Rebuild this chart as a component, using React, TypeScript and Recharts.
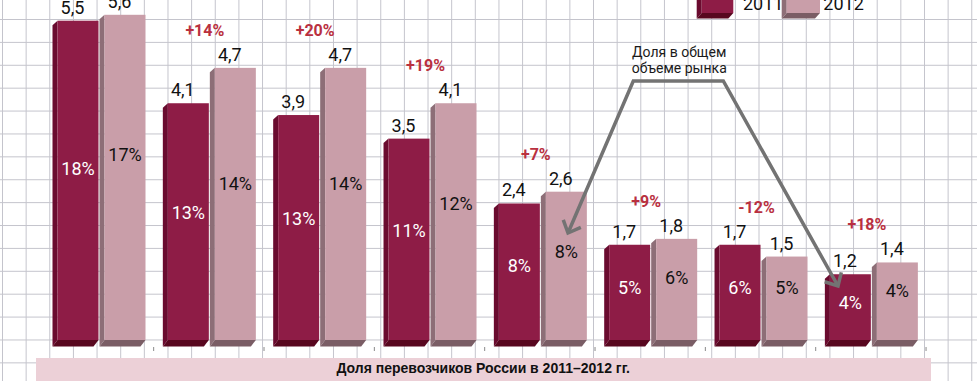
import React from "react";
import { BarChart, Bar, XAxis, YAxis, Legend, LabelList } from "recharts";

// перевозчики (подписей на оси нет)
const carriers = ["1", "2", "3", "4", "5", "6", "7", "8"];
const years = ["2011", "2012"];
// пассажиропоток, млн
const values2011 = [5.5, 4.1, 3.9, 3.5, 2.4, 1.7, 1.7, 1.2];
const values2012 = [5.6, 4.7, 4.7, 4.1, 2.6, 1.8, 1.5, 1.4];
// доля в общем объеме рынка
const share2011 = ["18%", "13%", "13%", "11%", "8%", "5%", "6%", "4%"];
const share2012 = ["17%", "14%", "14%", "12%", "8%", "6%", "5%", "4%"];
// прирост 2012 к 2011
const growth = ["", "+14%", "+20%", "+19%", "+7%", "+9%", "-12%", "+18%"];

const data = carriers.map((name, i) => ({ name, y2011: values2011[i], y2012: values2012[i] }));

const DARK = { front: "#8e1c46", side: "#6a0b2f", bottom: "#58071f" };
const LIGHT = { front: "#c99ea9", side: "#8d6e77", bottom: "#7a5d65" };
const FONT = "Roboto, 'DejaVu Sans', sans-serif";
const DEPTH = 5;
const DROP = 5;

function Bar3D(props: any) {
  const { x, y, width, height, colors } = props;
  if (height <= 0) return null;
  const fb = y + height - DROP; // низ передней грани
  const bb = y + height + 1.5;
  return (
    <g>
      <polygon points={`${x},${y + 4.5} ${x + DEPTH},${y} ${x + DEPTH},${fb} ${x},${bb}`} fill={colors.side} />
      <polygon points={`${x},${bb} ${x + DEPTH},${fb} ${x + width},${fb} ${x + width - DEPTH},${bb}`} fill={colors.bottom} />
      <rect x={x + DEPTH} y={y} width={width - DEPTH} height={fb - y} fill={colors.front} />
    </g>
  );
}

const fmt = (v: number) => v.toFixed(1).replace(".", ",");

function box(p: any) {
  const vb = p.viewBox || {};
  return {
    x: p.x ?? vb.x,
    y: p.y ?? vb.y,
    w: p.width ?? vb.width,
    h: p.height ?? vb.height,
  };
}

function Labels2011(p: any) {
  const { x, y, w, h } = box(p);
  const i = p.index;
  const frontH = h - DROP;
  return (
    <g fontFamily={FONT}>
      <text x={x + 20} y={y - 7} textAnchor="middle" fontSize={18} fill="#111">
        {fmt(values2011[i])}
      </text>
      <text x={x + DEPTH + (w - DEPTH) / 2} y={y + frontH * 0.47 + 4} textAnchor="middle" fontSize={18} fill="#fff">
        {share2011[i]}
      </text>
    </g>
  );
}

function Labels2012(p: any) {
  const { x, y, w, h } = box(p);
  const i = p.index;
  const frontH = h - DROP;
  const base = y + h;
  const darkTop = base - (h * values2011[i]) / values2012[i];
  const top = Math.min(y, darkTop);
  return (
    <g fontFamily={FONT}>
      <text x={x + 20} y={y - 7} textAnchor="middle" fontSize={18} fill="#111">
        {fmt(values2012[i])}
      </text>
      <text x={x + DEPTH + (w - DEPTH) / 2} y={y + frontH * 0.45} textAnchor="middle" fontSize={18} fill="#111">
        {share2012[i]}
      </text>
      {growth[i] && (
        <text x={x - 5} y={top - 32} textAnchor="middle" fontSize={16} fontWeight="bold" fill="#b9303f">
          {growth[i]}
        </text>
      )}
    </g>
  );
}

function SepTick(p: any) {
  const { x, y } = p;
  return <line x1={x + 55} x2={x + 55} y1={y - 6} y2={y - 2} stroke="#8a8a8a" strokeWidth={1} />;
}

function swatch(x0: number, w: number, c: typeof DARK) {
  return (
    <g>
      <polygon points={`${x0},4.5 ${x0 + DEPTH},0 ${x0 + DEPTH},33 ${x0},38.5`} fill={c.side} />
      <polygon points={`${x0},38.5 ${x0 + DEPTH},33 ${x0 + w},33 ${x0 + w - DEPTH},38.5`} fill={c.bottom} />
      <rect x={x0 + DEPTH} y={0} width={w - DEPTH} height={33} fill={c.front} />
    </g>
  );
}

function LegendBox() {
  return (
    <svg width={200} height={40} style={{ display: "block" }}>
      {swatch(6.7, 36.6, DARK)}
      <text x={53} y={30} fontFamily={FONT} fontSize={18} fill="#111">{years[0]}</text>
      {swatch(91.7, 38.3, LIGHT)}
      <text x={133.3} y={30} fontFamily={FONT} fontSize={18} fill="#111">{years[1]}</text>
    </svg>
  );
}

function arrowHead(tip: number[], from: number[], len = 14, ang = 0.75) {
  const dx = from[0] - tip[0];
  const dy = from[1] - tip[1];
  const L = Math.hypot(dx, dy);
  const ux = dx / L;
  const uy = dy / L;
  const rot = (a: number) => [
    tip[0] + len * (ux * Math.cos(a) - uy * Math.sin(a)),
    tip[1] + len * (ux * Math.sin(a) + uy * Math.cos(a)),
  ];
  const a = rot(ang);
  const b = rot(-ang);
  return `${a[0]},${a[1]} ${tip[0]},${tip[1]} ${b[0]},${b[1]}`;
}

export default function App() {
  const tipL = [568, 233];
  const tipR = [838, 286];
  const cornerL = [633.3, 81];
  const cornerR = [723.3, 81];
  return (
    <div
      style={{
        position: "relative",
        width: 977,
        height: 381,
        overflow: "hidden",
        backgroundColor: "#fff",
        backgroundImage:
          "linear-gradient(to right, #c4c4cc 1px, transparent 1px), linear-gradient(to bottom, #c4c4cc 1px, transparent 1px)",
        backgroundSize: "23.65px 22.9px",
        backgroundPosition: "2px 19px",
      }}
    >
      <style>{"body{margin:0}"}</style>
      <BarChart
        width={977}
        height={381}
        data={data}
        margin={{ top: 3, right: 50.8, bottom: 0, left: 43.5 }}
        barSize={46}
        barGap={1}
      >
        <XAxis dataKey="name" height={36} axisLine={false} tickLine={false} tick={<SepTick />} interval={0} />
        <YAxis hide domain={[0, 5.8]} />
        <Legend
          layout="horizontal"
          verticalAlign="middle"
          align="center"
          content={<LegendBox />}
          wrapperStyle={{ left: 690, top: -20, width: 200, height: 40 }}
        />
        <Bar dataKey="y2011" name={years[0]} isAnimationActive={false} shape={(p: any) => <Bar3D {...p} colors={DARK} />}>
          <LabelList dataKey="y2011" content={<Labels2011 />} />
        </Bar>
        <Bar dataKey="y2012" name={years[1]} isAnimationActive={false} shape={(p: any) => <Bar3D {...p} colors={LIGHT} />}>
          <LabelList dataKey="y2012" content={<Labels2012 />} />
        </Bar>
      </BarChart>

      <svg width={977} height={381} style={{ position: "absolute", left: 0, top: 0, pointerEvents: "none" }}>
        <g fontFamily={FONT} fontSize={14} fill="#1a1a1a" textAnchor="middle">
          <text x={679.2} y={57.3}>Доля в общем</text>
          <text x={679.2} y={72.7}>объеме рынка</text>
        </g>
        <polyline
          points={`${tipL.join(",")} ${cornerL.join(",")} ${cornerR.join(",")} ${tipR.join(",")}`}
          fill="none"
          stroke="#737373"
          strokeWidth={3.5}
        />
        <polyline points={arrowHead(tipL, cornerL)} fill="none" stroke="#737373" strokeWidth={3.5} />
        <polyline points={arrowHead(tipR, cornerR)} fill="none" stroke="#737373" strokeWidth={3.5} />
      </svg>

      <div
        style={{
          position: "absolute",
          left: 35.7,
          top: 358.3,
          width: 895,
          height: 23,
          background: "#ecd0d7",
          textAlign: "center",
          fontFamily: "'Liberation Sans', Arial, sans-serif",
          fontWeight: "bold",
          fontSize: 14,
          lineHeight: "20px",
          color: "#111",
        }}
      >
        Доля перевозчиков России в 2011–2012 гг.
      </div>
    </div>
  );
}
